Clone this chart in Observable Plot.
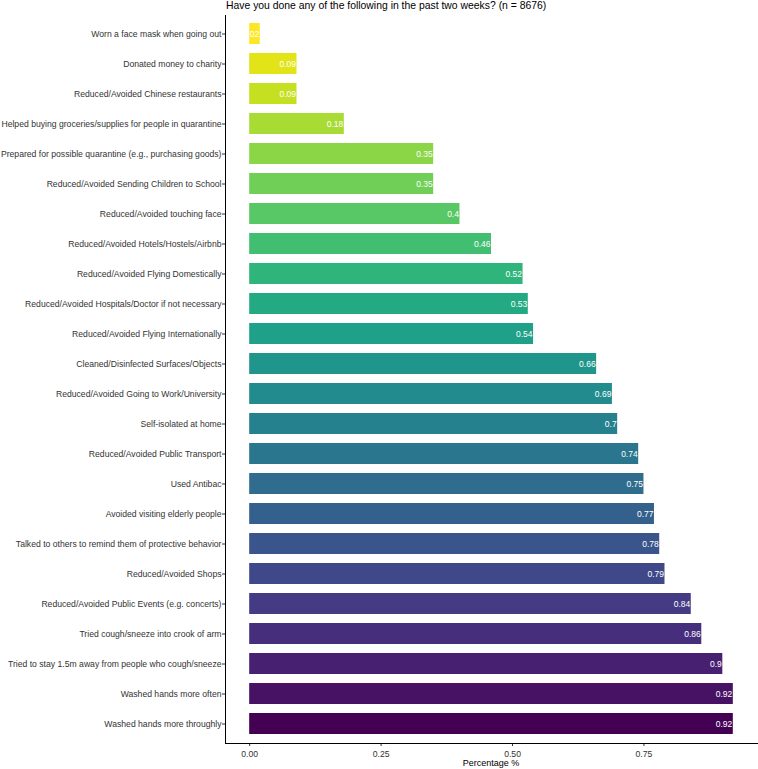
<!DOCTYPE html>
<html>
<head>
<meta charset="utf-8">
<script src="https://cdn.jsdelivr.net/npm/d3@7"></script>
<script src="https://cdn.jsdelivr.net/npm/@observablehq/plot@0.6"></script>
<style>
  body { margin: 0; background: #fff; font-family: "Liberation Sans", Arial, sans-serif; }
  #title { height: 15px; line-height: 12px; font-size: 10.4px; color: #000; padding-left: 226px; white-space: nowrap; }
</style>
</head>
<body>
<div id="title">Have you done any of the following in the past two weeks? (n = 8676)</div>
<div id="chart"></div>
<script>
const behaviours = [
  "Worn a face mask when going out",
  "Donated money to charity",
  "Reduced/Avoided Chinese restaurants",
  "Helped buying groceries/supplies for people in quarantine",
  "Prepared for possible quarantine (e.g., purchasing goods)",
  "Reduced/Avoided Sending Children to School",
  "Reduced/Avoided touching face",
  "Reduced/Avoided Hotels/Hostels/Airbnb",
  "Reduced/Avoided Flying Domestically",
  "Reduced/Avoided Hospitals/Doctor if not necessary",
  "Reduced/Avoided Flying Internationally",
  "Cleaned/Disinfected Surfaces/Objects",
  "Reduced/Avoided Going to Work/University",
  "Self-isolated at home",
  "Reduced/Avoided Public Transport",
  "Used Antibac",
  "Avoided visiting elderly people",
  "Talked to others to remind them of protective behavior",
  "Reduced/Avoided Shops",
  "Reduced/Avoided Public Events (e.g. concerts)",
  "Tried cough/sneeze into crook of arm",
  "Tried to stay 1.5m away from people who cough/sneeze",
  "Washed hands more often",
  "Washed hands more throughly"
];
const shares = [0.02, 0.09, 0.09, 0.18, 0.35, 0.35, 0.4, 0.46, 0.52, 0.53, 0.54, 0.66,
                0.69, 0.7, 0.74, 0.75, 0.77, 0.78, 0.79, 0.84, 0.86, 0.9, 0.92, 0.92];
const xTicks = [0, 0.25, 0.5, 0.75];
const xTickLabels = ["0.00", "0.25", "0.50", "0.75"];

const n = behaviours.length;
const data = behaviours.map((b, i) => ({
  behaviour: b,
  value: shares[i],
  color: d3.interpolateViridis((n - 1 - i) / (n - 1))
}));

const maxV = d3.max(shares);
const pad = maxV * 0.05;
const xDomain = [-pad, maxV + pad];

const plot = Plot.plot({
  width: 758,
  height: 754,
  marginLeft: 225,
  marginRight: 1,
  marginTop: 0,
  marginBottom: 26,
  style: { fontFamily: "Liberation Sans, Arial, sans-serif", fontSize: "8.65px", background: "#fff" },
  x: { domain: xDomain, ticks: xTicks, tickFormat: d => xTickLabels[xTicks.indexOf(d)] },
  y: { domain: behaviours, paddingInner: 0.29, paddingOuter: 0.24, label: null },
  marks: [
    Plot.barX(data, { x: "value", y: "behaviour", fill: "color" }),
    Plot.text(data, { x: "value", y: "behaviour", text: d => String(d.value), textAnchor: "end", dx: -1, fill: "white", fontSize: 8.5 }),
    Plot.axisY({ tickSize: 3, tickPadding: 1, stroke: "#333", fill: "#333", fontSize: 8.65, label: null }),
    Plot.axisX({ ticks: xTicks, tickFormat: d => xTickLabels[xTicks.indexOf(d)], tickSize: 3, tickPadding: 4, stroke: "#333", fill: "#333", fontSize: 8.65, label: null }),
    Plot.frame({ anchor: "left", stroke: "#000" }),
    Plot.frame({ anchor: "bottom", stroke: "#000" })
  ]
});
document.getElementById("chart").appendChild(plot);

// x-axis title below the plot
const svg = d3.select(plot);
svg.append("text")
  .attr("x", 225 + (757 - 225) / 2)
  .attr("y", 751)
  .attr("text-anchor", "middle")
  .attr("font-size", 9)
  .attr("fill", "#000")
  .text("Percentage %");
</script>
</body>
</html>
